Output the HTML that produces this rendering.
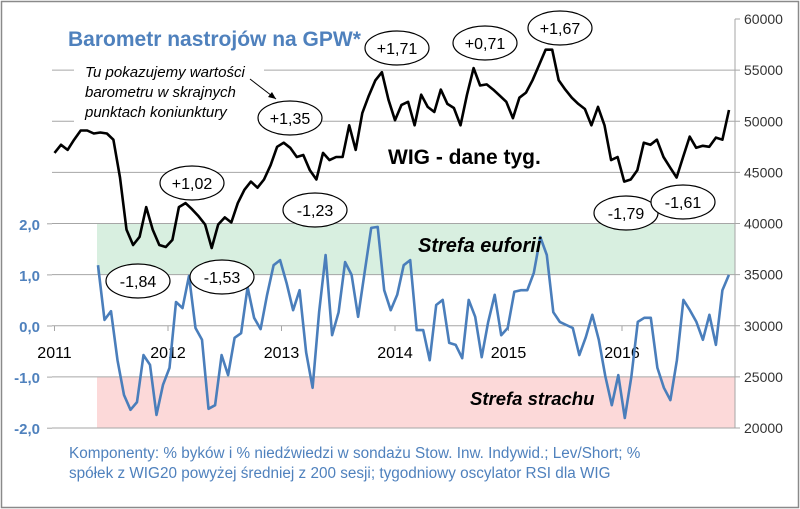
<!DOCTYPE html>
<html><head><meta charset="utf-8"><style>
body{margin:0;background:#fff;}
svg{display:block;font-family:"Liberation Sans",sans-serif;}
</style></head><body>
<svg id="c" width="800" height="509" viewBox="0 0 800 509">
<rect x="1.5" y="1.5" width="797" height="506" fill="#fff" stroke="#8a8a8a" stroke-width="1.5"/>
<rect x="97" y="224" width="638" height="51" fill="#d8efe0"/>
<rect x="97" y="377" width="638" height="51" fill="#fcd9d9"/>
<g id="grid"></g>
<g id="axes"></g>
<path id="wig" fill="none" stroke="#000" stroke-width="2.6" stroke-linejoin="round"/>
<path id="baro" fill="none" stroke="#4a7ebb" stroke-width="2.6" stroke-linejoin="round"/>
<rect x="60" y="18" width="300" height="34" fill="#fff"/>
<rect x="74" y="58" width="190" height="66" fill="#fff"/>
<text x="68" y="46" font-size="21" font-weight="bold" fill="#4f81bd">Barometr nastrojów na GPW*</text>
<g font-size="15" font-style="italic" fill="#000">
<text x="85" y="77">Tu pokazujemy wartości</text>
<text x="85" y="97">barometru w skrajnych</text>
<text x="85" y="117">punktach koniunktury</text>
</g>
<line x1="250" y1="79" x2="276" y2="99" stroke="#000" stroke-width="1"/>
<path d="M276 99 L268 97 L272 92 Z" fill="#000"/>
<text x="388" y="164" font-size="21" font-weight="bold">WIG - dane tyg.</text>
<text x="418" y="252" font-size="20" font-weight="bold" font-style="italic">Strefa euforii</text>
<text x="470" y="405" font-size="18.5" font-weight="bold" font-style="italic">Strefa strachu</text>
<g id="ann" font-size="16"></g>
<g font-size="15.3" fill="#4f81bd">
<text x="69" y="458">Komponenty: % byków i % niedźwiedzi  w sondażu Stow. Inw. Indywid.; Lev/Short; %</text>
<text x="69" y="478">spółek z WIG20 powyżej średniej z 200 sesji; tygodniowy oscylator RSI dla WIG</text>
</g>
</svg>
<script>
// WIG weekly index, thousands, every 3 weeks from start of 2011
const wigValues=[46.9,47.7,47.2,48.2,49.1,49.1,48.8,48.9,48.8,48.2,44.5,39.4,37.9,38.7,41.6,39.4,37.9,37.7,38.4,41.6,42.0,41.4,40.7,39.9,37.6,39.9,40.6,40.1,42.0,43.3,44.1,43.5,44.3,45.7,47.5,47.9,47.4,46.5,46.7,45.2,44.3,46.9,46.2,46.5,46.5,49.6,47.2,50.8,52.5,54.0,54.8,52.1,50.1,51.6,51.9,49.6,52.6,51.4,50.9,53.1,51.7,51.3,49.6,52.6,55.2,53.5,53.6,53.1,52.5,51.9,50.3,52.3,52.8,54.0,55.5,57.0,57.0,54.0,53.1,52.3,51.7,51.2,49.6,51.4,49.6,46.2,46.5,44.1,44.3,45.2,47.9,47.7,48.2,46.5,45.5,44.5,46.5,48.5,47.4,47.6,47.5,48.4,48.2,51.1];
const wigStart=2011.0, wigStep=3/52;
// Barometer values
const baroValues=[1.19,0.12,0.29,-0.67,-1.35,-1.64,-1.49,-0.57,-0.76,-1.74,-1.15,-0.82,0.47,0.35,0.98,-0.04,-0.27,-1.62,-1.55,-0.57,-0.96,-0.23,-0.14,0.76,0.16,-0.06,0.61,1.19,1.29,0.84,0.31,0.70,-0.51,-1.21,0.27,1.39,-0.18,0.27,1.25,1.0,0.18,1.06,1.92,1.94,0.70,0.31,0.61,1.19,1.29,-0.08,-0.08,-0.67,0.41,0.51,-0.33,-0.37,-0.63,0.51,0.18,-0.61,0.08,0.61,-0.18,-0.04,0.67,0.70,0.70,1.04,1.74,1.39,0.27,0.08,0.02,-0.04,-0.57,-0.22,0.22,-0.27,-0.98,-1.55,-0.96,-1.80,-1.0,0.08,0.16,0.16,-0.82,-1.21,-1.45,-0.67,0.51,0.31,0.08,-0.27,0.22,-0.37,0.70,1.0];
const baroStart=2011.383, baroStep=2.98/52;
const yearLabels=["2011","2012","2013","2014","2015","2016"];
const leftTicks=[2,1,0,-1,-2];
const leftTickLabels=["2,0","1,0","0,0","-1,0","-2,0"];
const rightTicks=[60000,55000,50000,45000,40000,35000,30000,25000,20000];
const annLabels=["+1,02","-1,84","-1,53","+1,35","-1,23","+1,71","+0,71","+1,67","-1,79","-1,61"];
const annX=[192,138,222,290,315,397,485,560,626,683];
const annY=[183,281,277,118,210,48,43,28,213,202];

const NS="http://www.w3.org/2000/svg";
const X=y=>54.5+(y-2011)*113.5;
const YR=v=>19+(60000-v)*409/40000;
const YL=v=>326-v*51.1;
function mk(t,a,p){const e=document.createElementNS(NS,t);for(const k in a)e.setAttribute(k,a[k]);p.appendChild(e);return e;}
const grid=document.getElementById('grid'),axes=document.getElementById('axes');
rightTicks.forEach(t=>{
  if(t<60000){const g=mk('line',{x1:52,x2:735,y1:YR(t),y2:YR(t),stroke:'#a6a6a6','stroke-width':1},grid);
  
  }
  const tk=mk('line',{x1:735,x2:740,y1:YR(t),y2:YR(t),stroke:'#a6a6a6'},axes);
  
  
  const tx=mk('text',{x:744,y:YR(t)+5,'font-size':14,fill:'#333'},axes);tx.textContent=t;
  
  
});
mk('line',{x1:735,x2:735,y1:19,y2:428,stroke:'#a6a6a6'},axes);
leftTicks.forEach((t,i)=>{
  mk('line',{x1:47,x2:52,y1:YL(t),y2:YL(t),stroke:'#a6a6a6'},axes);
  const tx=mk('text',{x:40,y:YL(t)+6,'font-size':15,'font-weight':'bold',fill:'#4f81bd','text-anchor':'end'},axes);tx.textContent=leftTickLabels[i];
  
  
});
yearLabels.forEach((l,i)=>{
  const x=X(2011+i);
  mk('line',{x1:x,x2:x,y1:326,y2:331,stroke:'#a6a6a6'},axes);
  const tx=mk('text',{x:x,y:358,'font-size':16,fill:'#000','text-anchor':'middle'},axes);tx.textContent=l;
  
  
});
document.getElementById('wig').setAttribute('d',wigValues.map((v,i)=>(i?'L':'M')+X(wigStart+i*wigStep).toFixed(1)+' '+YR(v*1000).toFixed(1)).join(' '));
document.getElementById('baro').setAttribute('d',baroValues.map((v,i)=>(i?'L':'M')+X(baroStart+i*baroStep).toFixed(1)+' '+YL(v).toFixed(1)).join(' '));
const ann=document.getElementById('ann');
annLabels.forEach((l,i)=>{
  const e=mk('ellipse',{cx:annX[i],cy:annY[i],rx:l.length>4?32:29,ry:17,fill:'#fff',stroke:'#000','stroke-width':1.2},ann);
  
  
  const t=mk('text',{x:annX[i],y:annY[i]+6,'text-anchor':'middle'},ann);t.textContent=l;
  
  
});
</script>
</body></html>
